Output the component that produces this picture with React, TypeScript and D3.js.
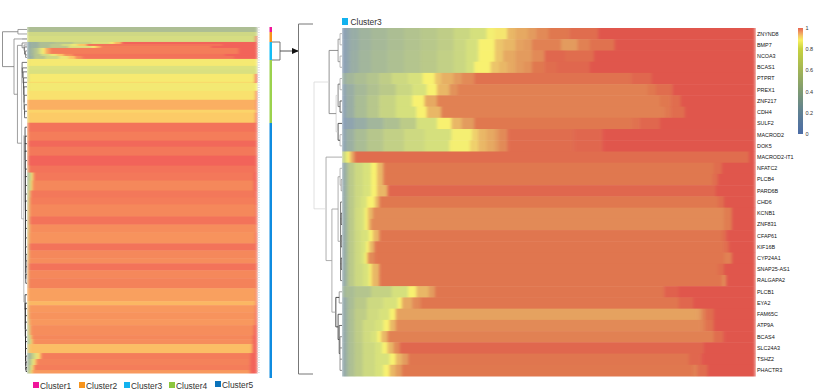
import React from "react";
import * as d3 from "d3";

type Run = [number, number]; // [end column, value]
type Tree = number | { h: number; t: string; c: Tree[] };

const geneLabels = [
  "ZNYND8", "BMP7", "NCOA3", "BCAS1", "PTPRT", "PREX1", "ZNF217", "CDH4", "SULF2", "MACROD2", "DOK5",
  "MACROD2-IT1", "NFATC2", "PLCB4", "PARD6B", "CHD6", "KCNB1", "ZNF831", "CFAP61", "KIF16B", "CYP24A1",
  "SNAP25-AS1", "RALGAPA2", "PLCB1", "EYA2", "FAM65C", "ATP9A", "BCAS4", "SLC24A3", "TSHZ2", "PHACTR3",
];

// each gene: sorted values as runs of columns
const geneRuns: Run[][] = [
  [[1,.08],[2,.16],[4,.24],[7,.32],[11,.38],[15,.44],[19,.5],[23,.56],[27,.62],[31,.7],[35,.78],[37,.87],[40,.89],[42,.93],[45,.94],[47,.95],[50,.96],[55,.97],[62,.98],[100,1]],
  [[1,.08],[2,.16],[4,.24],[7,.32],[11,.38],[15,.44],[19,.5],[23,.56],[27,.62],[30,.7],[33,.78],[37,.88],[39,.92],[42,.93],[44,.945],[46,.95],[53,.965],[57,.95],[60,.965],[66,.975],[100,1]],
  [[1,.08],[2,.16],[4,.26],[7,.34],[11,.4],[15,.46],[19,.52],[23,.58],[27,.64],[30,.7],[33,.78],[37,.88],[39,.92],[42,.94],[46,.95],[49,.96],[54,.985],[61,.98],[100,1]],
  [[1,.08],[2,.16],[4,.26],[7,.34],[11,.4],[15,.46],[19,.52],[23,.58],[27,.64],[30,.7],[32,.78],[36,.88],[38,.92],[40,.93],[42,.94],[44,.95],[46,.955],[49,.97],[52,.98],[60,.985],[100,1]],
  [[1,.25],[3,.36],[6,.44],[9,.52],[12,.62],[16,.72],[19.5,.79],[22.5,.88],[24,.92],[27,.935],[29,.95],[32,.96],[70,.975],[75,.985],[100,1]],
  [[1,.12],[3,.26],[6,.38],[9,.48],[13,.58],[17,.7],[20.5,.8],[23,.88],[26,.93],[28,.955],[74,.965],[76,.97],[80,.98],[100,1]],
  [[1,.1],[3,.26],[6,.42],[9,.55],[13,.68],[17,.78],[20,.88],[23,.94],[77,.965],[79.5,.97],[82,.98],[100,1]],
  [[1,.1],[3,.26],[6,.42],[9,.55],[13,.68],[18,.78],[20.5,.88],[24,.93],[78,.965],[79.5,.97],[83,.98],[100,1]],
  [[1,.06],[3,.14],[6,.24],[10,.34],[14,.46],[18,.6],[23,.78],[26.5,.88],[29,.93],[32,.95],[70,.97],[72,.975],[77,.985],[100,1]],
  [[1,.12],[3,.28],[6,.42],[10,.54],[15,.64],[20,.72],[26.5,.78],[31.5,.87],[33,.91],[35,.93],[37,.94],[38,.95],[40,.96],[56,.98],[63,.985],[100,1]],
  [[1,.12],[3,.28],[6,.42],[10,.54],[15,.64],[20,.72],[26,.78],[31,.87],[33,.91],[35,.93],[37,.94],[38,.95],[40,.96],[56,.98],[63,.985],[100,1]],
  [[.5,.55],[1.2,.8],[2,.88],[3,.94],[98.5,.98],[100,1]],
  [[.7,.15],[1.5,.35],[3,.58],[5,.72],[7,.8],[8.5,.88],[10,.93],[90,.97],[92,.98],[100,1]],
  [[.7,.15],[1.5,.35],[3,.58],[5,.72],[7,.8],[8.5,.88],[10,.93],[89.6,.97],[91,.98],[100,1]],
  [[.7,.15],[1.5,.35],[3,.58],[5,.72],[7,.8],[8.5,.88],[11,.93],[90.5,.985],[100,1]],
  [[.7,.15],[1.5,.35],[3,.58],[4.5,.72],[6,.8],[8,.88],[9,.93],[91,.97],[92.5,.98],[100,1]],
  [[.7,.15],[1.5,.35],[3,.58],[4.5,.75],[5.5,.8],[6.3,.88],[7.5,.93],[92.5,.96],[94.4,.967],[100,1]],
  [[.7,.15],[1.5,.35],[3,.58],[4.5,.75],[5.5,.8],[6.3,.88],[7,.93],[92.5,.96],[94.4,.967],[100,1]],
  [[.7,.15],[1.5,.35],[3,.58],[4.5,.72],[6.5,.8],[7.5,.88],[9,.93],[92,.972],[93,.98],[100,1]],
  [[.7,.15],[1.5,.35],[3,.58],[4.5,.72],[5.8,.8],[6.6,.88],[7.8,.93],[92.3,.972],[93.7,.98],[100,1]],
  [[.7,.15],[1.5,.35],[3,.58],[4.5,.72],[5.5,.8],[6.2,.88],[7.8,.96],[92.5,.972],[94.4,.965],[100,1]],
  [[.7,.15],[1.5,.35],[3,.58],[5,.72],[6.5,.8],[7.2,.88],[9,.93],[91,.972],[92.5,.98],[100,1]],
  [[.7,.15],[1.5,.35],[3,.58],[5,.72],[6.5,.8],[7.2,.88],[9,.93],[92,.972],[93,.96],[100,1]],
  [[.6,.25],[3,.42],[7,.52],[12,.66],[16,.78],[18,.88],[21,.93],[22.5,.95],[78,.972],[81.5,.99],[100,1]],
  [[.7,.15],[1.5,.3],[3,.42],[6,.58],[10,.72],[13.5,.8],[14.5,.88],[17,.94],[19,.96],[81.5,.972],[85,.985],[100,1]],
  [[.7,.15],[1.5,.3],[3,.45],[6,.62],[9,.74],[11.5,.8],[13,.88],[86,.945],[87,.95],[88,.965],[90,.98],[100,1]],
  [[.7,.15],[1.5,.3],[3,.45],[5,.62],[8,.74],[10,.8],[11.5,.88],[13,.93],[87,.96],[88,.965],[90,.975],[100,1]],
  [[.7,.15],[1.5,.3],[3,.45],[5,.62],[7,.74],[8.5,.8],[9.5,.88],[11,.93],[90,.965],[92.3,.98],[100,1]],
  [[.7,.15],[1.5,.3],[3,.45],[5,.6],[8,.72],[9.7,.8],[11,.88],[12.5,.93],[14,.96],[87.5,.985],[100,1]],
  [[.7,.15],[1.5,.3],[3,.45],[5,.6],[8,.72],[11.5,.8],[13,.88],[14.5,.93],[16,.95],[84,.972],[87,.985],[100,1]],
  [[.7,.15],[1.5,.3],[3,.45],[5,.6],[8,.72],[10,.8],[11.5,.88],[13,.93],[14.5,.95],[85,.97],[86,.965],[88.5,.98],[100,1]],
];

// whole cohort panel: [rows, value, left edge columns, right edge columns]
const topBands: [number, number, number, number][] = [
  [5, .45, 0, 0], [4, .72, 0, 0], [6, .76, 0, .6],
];
const cluster3Bands: [number, Run[]][] = [
  [2, [[1,.15],[5,.3],[12,.45],[20,.55],[28,.68],[36,.8],[38,.88],[41,.93],[100,1]]],
  [2, [[1,.15],[5,.3],[10,.45],[15,.6],[19,.75],[22,.85],[26,.92],[85,.985],[100,1]]],
  [2, [[1,.15],[5,.3],[10,.45],[18,.6],[28,.8],[30,.88],[32,.93],[80,.975],[100,1]]],
  [6, [[1,.15],[3,.35],[5,.55],[6.5,.78],[8,.88],[10,.94],[92,.975],[100,1]]],
  [2, [[1,.15],[3,.35],[6,.55],[10,.75],[13,.85],[16,.92],[20,.96],[86,.985],[100,1]]],
  [3, [[1,.15],[3,.3],[8,.55],[14,.72],[18,.85],[21,.92],[24,.96],[90,.985],[100,1]]],
];
const cluster4Bands: [number, number, number, number][] = [
  [7, .87, .4, 0], [4, .8, 0, 0], [4, .78, 0, 0], [8, .875, .8, .8], [1, .9, 0, 1],
  [8, .865, .4, 0], [9, .89, 0, .5], [10, .935, 0, .3], [3, .905, 0, .3], [10, .915, .4, .6],
];
const cluster5Bands: [number, number, number, number][] = [
  [9, .985, .3, .4], [9, .975, .3, .3], [6, .995, .3, .2], [9, .98, .3, .3], [10, 1, .4, .4],
  [7, .985, .6, .8], [8, .98, 2.8, 1.4], [10, .965, 2.4, 1.4], [7, .98, 1.4, .8], [7, .975, 1.2, .6],
  [12, .965, 1, .5], [8, .985, 1, .3], [8, .96, 1, .3], [11, .955, .8, .6], [7, .985, .8, .3],
  [8, .965, .8, .3], [5, .96, .6, .3], [7, .985, .6, .2], [8, .965, .5, .2], [10, .97, .5, .2],
  [13, .945, .2, .3], [4, .93, .5, .5], [7, .95, .6, .6], [7, .955, .8, .6], [6, .95, 1, .8],
  [10, .96, 1.4, 1.4], [4, .965, 2, 1.8], [5, .96, 2.4, 1.8], [9, .925, 1, 2],
  [6, .975, 6, 2.8], [6, .97, 4, 3], [5, .975, 3, 3], [3, .95, 2.4, 3],
];

const edgeValues = [.3, .6, .8, .9];

const clusters = ["Cluster1", "Cluster2", "Cluster3", "Cluster4", "Cluster5"];
const clusterColors = ["#f0149a", "#f7941d", "#12b2ef", "#8cc63f", "#0b72ba"];
const clusterBarColors = ["#f0149a", "#f7941d", "#14bdf5", "#9bd24e", "#0f8ce0"];
const clusterRows = [5, 10, 18, 63, 255];

const valueStops = [0, .2, .4, .6, .8, .88, .92, .95, .97, 1];
const barRange = ["#4b6ca6", "#5f8092", "#7e9a72", "#a2b555", "#c8d33e", "#f8f060", "#f5c866", "#f0a060", "#ec8458", "#e8604f"];
const rightRange = ["#8399bb", "#94a9aa", "#a8bb96", "#bccb88", "#d8e27c", "#f8f170", "#ecc56a", "#e39b5e", "#e0784f", "#e0564c"];
const leftRange = ["#7d97c0", "#90a8aa", "#a8ba96", "#bcc98c", "#dce27f", "#f8ea70", "#fcc666", "#f8985e", "#f4825a", "#f2635a"];

const legendTicks = [0, .2, .4, .6, .8, 1];

// dendrogram heights: 0 at the heatmap edge, 1 at the root
const geneTree: Tree = {
  h: 1, t: "#d8d8d8", c: [
    { h: .46, t: "#777", c: [
      { h: .14, t: "#888", c: [{ h: .07, t: "#aaa", c: [0, 1] }, { h: .07, t: "#aaa", c: [2, 3] }] },
      { h: .21, t: "#ccc", c: [
        { h: .14, t: "#666", c: [{ h: .07, t: "#aaa", c: [4, 5] }, { h: .07, t: "#444", c: [6, 7] }] },
        { h: .14, t: "#333", c: [8, { h: .07, t: "#aaa", c: [9, 10] }] },
      ] },
    ] },
    { h: .57, t: "#999", c: [
      11,
      { h: .36, t: "#999", c: [
        { h: .14, t: "#999", c: [
          { h: .07, t: "#aaa", c: [12, { h: .03, t: "#888", c: [13, 14] }] },
          { h: .05, t: "#555", c: [15, { h: .03, t: "#333", c: [16, 17] }, { h: .03, t: "#333", c: [18, 19] }, { h: .03, t: "#333", c: [20, 21] }, 22] },
        ] },
        { h: .22, t: "#222", c: [
          { h: .1, t: "#888", c: [23, 24] },
          { h: .14, t: "#333", c: [25, { h: .1, t: "#444", c: [26, { h: .07, t: "#777", c: [27, 28, 29, 30] }] }] },
        ] },
      ] },
    ] },
  ],
};

const cluster4Spine = [.2, .18, .16, .14, .14, .12, .12, .1, .1];
const cluster5Upper = [.08, .08, .08, .08, .07, .07, .07, .07, .07, .06, .06, .06, .06, .06, .06, .05, .05, .05, .05];
const cluster5Lower = [.08, .07, .07, .07, .07, .06, .06, .06, .06, .05, .05, .04, .04];

const spine = (ids: number[], hs: number[], t: string): Tree =>
  ids.slice(0, -1).reduceRight<Tree>((acc, id, i) => ({ h: hs[i], t, c: [id, acc] }), ids[ids.length - 1]);

const range = (a: number, n: number) => d3.range(a, a + n);

const c3Start = topBands.length;
const c4Start = c3Start + cluster3Bands.length;
const c5Start = c4Start + cluster4Bands.length;

const cohortTree: Tree = {
  h: 1, t: "#777", c: [
    { h: .37, t: "#888", c: [0, 1] },
    { h: .53, t: "#888", c: [
      { h: .2, t: "#999", c: [2, 2] },
      { h: .39, t: "#888", c: [
        { h: .2, t: "#777", c: [c3Start, { h: .12, t: "#888", c: [c3Start + 1, { h: .1, t: "#555", c: [c3Start + 2, { h: .06, t: "#777", c: [c3Start + 3, c3Start + 4, c3Start + 5] }] }] }] },
        { h: .22, t: "#aaa", c: [
          spine(range(c4Start, cluster4Bands.length), cluster4Spine, "#555"),
          { h: .13, t: "#aaa", c: [
            spine(range(c5Start, 20), cluster5Upper, "#333"),
            spine(range(c5Start + 20, cluster5Bands.length - 20), cluster5Lower, "#222"),
          ] },
        ] },
      ] },
    ] },
  ],
};

const W = 832;
const H = 392;

const colorScale = (out: string[]) => d3.scaleLinear<string>().domain(valueStops).range(out).interpolate(d3.interpolateRgb);
const barColor = colorScale(barRange);
const rightColor = colorScale(rightRange);
const leftColor = colorScale(leftRange);

const runsToCells = (runs: Run[]) => {
  let start = 0;
  return runs.map(([end, v]) => {
    const cell = { start, end, v };
    start = end;
    return cell;
  });
};

const simpleBand = ([, v, l, r]: [number, number, number, number]): Run[] => {
  const out: Run[] = edgeValues.filter(() => l > 0).map((e, i) => [(l * (i + 1)) / edgeValues.length, Math.min(e, v)] as Run);
  if (r > 0) out.push([100 - r, v]);
  out.push(r > 0 ? [100, 1] : [100, v]);
  return out;
};

const leftBands: [number, Run[]][] = [
  ...topBands.map((b) => [b[0], simpleBand(b)] as [number, Run[]]),
  ...cluster3Bands,
  ...cluster4Bands.map((b) => [b[0], simpleBand(b)] as [number, Run[]]),
  ...cluster5Bands.map((b) => [b[0], simpleBand(b)] as [number, Run[]]),
];

// draws a tree as bracket paths, returns the y of the node
const layoutTree = (
  node: Tree,
  xOf: (h: number) => number,
  yOf: (leaf: number) => number,
  out: { d: string; t: string }[]
): number => {
  if (typeof node === "number") return yOf(node);
  const ys = node.c.map((c) => layoutTree(c, xOf, yOf, out));
  const x = xOf(node.h);
  const p = d3.path();
  node.c.forEach((c, i) => {
    const cx = typeof c === "number" ? xOf(0) : xOf(c.h);
    p.moveTo(cx, ys[i]);
    p.lineTo(x, ys[i]);
  });
  p.moveTo(x, d3.min(ys) as number);
  p.lineTo(x, d3.max(ys) as number);
  out.push({ d: p.toString(), t: node.t });
  return ((d3.min(ys) as number) + (d3.max(ys) as number)) / 2;
};

export default function App() {
  // left panel
  const lx = d3.scaleLinear().domain([0, 100]).range([27, 257]);
  const totalRows = d3.sum(leftBands, (b) => b[0]);
  const ly = d3.scaleLinear().domain([0, totalRows]).range([27, 373]);
  const bandTops = d3.cumsum(leftBands.map((b) => b[0]));
  const bandY = (i: number) => ly((i > 0 ? bandTops[i - 1] : 0) + leftBands[i][0] / 2);

  // zoomed panel
  const rx = d3.scaleLinear().domain([0, 100]).range([342, 755]);
  const ry = d3.scaleBand<string>().domain(geneLabels).range([28, 376]);

  const cohortPaths: { d: string; t: string }[] = [];
  layoutTree(cohortTree, d3.scaleLinear().domain([0, 1]).range([27, 2.5]), bandY, cohortPaths);
  const genePaths: { d: string; t: string }[] = [];
  layoutTree(
    geneTree,
    d3.scaleLinear().domain([0, 1]).range([342, 314]),
    (i) => (ry(geneLabels[i]) as number) + ry.bandwidth() / 2,
    genePaths
  );

  const cy = d3.scaleLinear().domain([0, d3.sum(clusterRows)]).range([27, 378]);
  const clusterTops = [0, ...d3.cumsum(clusterRows)];
  const c3Top = cy(clusterTops[2]);
  const c3Bottom = cy(clusterTops[3]);

  const legendY = d3.scaleLinear().domain([0, 1]).range([134, 28]);
  const legendSteps = d3.range(0, 1, 1 / 106);

  const legendX = [33, 79, 124, 169, 215];

  return (
    <svg
      width={W}
      height={H}
      viewBox={`0 0 ${W} ${H}`}
      style={{ position: "absolute", left: 0, top: 0, background: "#fff" }}
      fontFamily="'Liberation Sans', Arial, sans-serif"
    >
      <defs>
        <marker id="head" markerWidth="8" markerHeight="7" refX="7" refY="3.5" orient="auto">
          <path d="M0,0L8,3.5L0,7Z" fill="#111" />
        </marker>
        {/* the source is a resampled bitmap, the cell steps melt together */}
        <filter id="soft" x="0" y="0" width="1" height="1" colorInterpolationFilters="sRGB">
          <feGaussianBlur stdDeviation="1.5 0.3" edgeMode="duplicate" />
        </filter>
      </defs>

      {/* left heatmap */}
      <g filter="url(#soft)">
        {leftBands.map(([, runs], i) => (
          <g key={i}>
            {runsToCells(runs).map((c, j) => (
              <rect
                key={j}
                x={lx(c.start)}
                y={ly(i > 0 ? bandTops[i - 1] : 0)}
                width={lx(c.end) - lx(c.start) + .5}
                height={ly(leftBands[i][0]) - ly(0) + .5}
                fill={leftColor(c.v)}
              />
            ))}
          </g>
        ))}
      </g>
      {cohortPaths.map((p, i) => (
        <path key={i} d={p.d} fill="none" stroke={p.t} strokeWidth={.8} />
      ))}
      <line x1={258.5} x2={258.5} y1={27} y2={373} stroke="#ddd" strokeWidth={2.5} strokeDasharray="1 1.5" />

      {/* cluster strip */}
      {clusters.map((c, i) => (
        <rect key={c} x={269.5} y={cy(clusterTops[i])} width={2.5} height={cy(clusterTops[i + 1]) - cy(clusterTops[i])} fill={clusterBarColors[i]} />
      ))}

      {/* link to the zoomed panel */}
      <path d={`M272,${c3Top}H280V${c3Bottom}H272`} fill="none" stroke="#666" strokeWidth={.9} />
      <line x1={280} x2={298} y1={(c3Top + c3Bottom) / 2} y2={(c3Top + c3Bottom) / 2} stroke="#444" strokeWidth={.9} markerEnd="url(#head)" />
      <path d="M313,24H298.5V374H313" fill="none" stroke="#777" strokeWidth={1} />

      {/* zoomed heatmap */}
      <rect x={342} y={18} width={6} height={7} fill={clusterColors[2]} />
      <text x={350.5} y={24.5} fontSize={8.4} fill="#333">Cluster3</text>
      <g filter="url(#soft)">
        {geneRuns.map((runs, i) => (
          <g key={geneLabels[i]}>
            {runsToCells(runs).map((c, j) => (
              <rect
                key={j}
                x={rx(c.start)}
                y={ry(geneLabels[i])}
                width={rx(c.end) - rx(c.start) + .5}
                height={ry.bandwidth() + .5}
                fill={rightColor(c.v)}
              />
            ))}
          </g>
        ))}
      </g>
      {genePaths.map((p, i) => (
        <path key={i} d={p.d} fill="none" stroke={p.t} strokeWidth={.8} />
      ))}
      {geneLabels.map((g) => (
        <text key={g} x={757} y={(ry(g) as number) + ry.bandwidth() / 2} dy="0.35em" fontSize={5.4} fill="#111">{g}</text>
      ))}

      {/* colour legend */}
      <g shapeRendering="crispEdges">
        {legendSteps.map((v) => (
          <rect key={v} x={798} y={legendY(v) - 1} width={5} height={1.2} fill={barColor(v)} />
        ))}
      </g>
      {legendTicks.map((t) => (
        <text key={t} x={805.5} y={legendY(t)} dy="0.35em" fontSize={5.5} fill="#333">{t}</text>
      ))}

      {/* cluster legend */}
      {clusters.map((c, i) => (
        <g key={c}>
          <rect x={legendX[i]} y={i === 4 ? 381 : 382} width={6} height={6} fill={clusterColors[i]} />
          <text x={legendX[i] + 7} y={i === 4 ? 387.5 : 388.5} fontSize={8.4} fill="#333">{c}</text>
        </g>
      ))}
    </svg>
  );
}
